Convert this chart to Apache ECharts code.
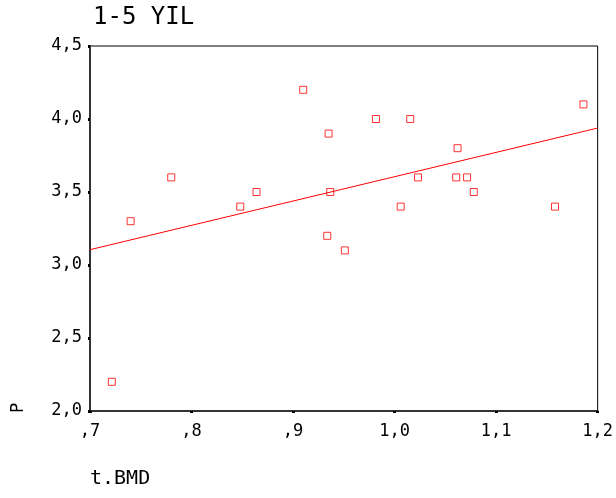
<!DOCTYPE html>
<html><head><meta charset="utf-8">
<script src="https://cdn.jsdelivr.net/npm/echarts@6/dist/echarts.min.js"></script>
<style>html,body{margin:0;padding:0;background:#fff}#c{width:616px;height:498px}</style>
</head><body><div id="c"></div>
<script>
var bmd = [0.7215,0.740,0.780,0.848,0.864,0.910,0.935,0.9366,0.9337,0.951,0.9816,1.0154,1.006,1.023,1.062,1.0607,1.0714,1.078,1.158,1.186];
var pVals = [2.2,3.3,3.6,3.4,3.5,4.2,3.9,3.5,3.2,3.1,4.0,4.0,3.4,3.6,3.8,3.6,3.6,3.5,3.4,4.1];
var fitX = [0.7,1.2];
var fitY = [3.105,3.938];
var xTickLabels = [',7',',8',',9','1,0','1,1','1,2'];
var yTickLabels = ['2,0','2,5','3,0','3,5','4,0','4,5'];

var pts = bmd.map(function(x,i){return [x,pVals[i]];});
var fit = fitX.map(function(x,i){return [x,fitY[i]];});
var font = 'DejaVu Sans Mono';
var chart = echarts.init(document.getElementById('c'));
chart.setOption({
  animation:false,
  title:{text:'1-5 YIL',left:88,top:1,textStyle:{fontFamily:font,fontSize:24,fontWeight:'normal',color:'#000'}},
  grid:{left:90,top:46,right:14,bottom:87,show:true,borderColor:'#000',borderWidth:1},
  graphic:[
    {type:'text',left:90,top:469,style:{text:'t.BMD',font:'20px "DejaVu Sans Mono"',fill:'#000'}},
    {type:'text',x:10,y:413,rotation:Math.PI/2,style:{text:'P',font:'17px "DejaVu Sans Mono"',fill:'#000'}}
  ],
  xAxis:{type:'value',min:0.7,max:1.2,interval:0.1,
    axisLine:{onZero:false,lineStyle:{color:'#333',width:2}},
    axisTick:{show:true,length:2,lineStyle:{color:'#000',width:3}},
    splitLine:{show:false},
    axisLabel:{margin:12,fontFamily:font,fontSize:17,color:'#000',
      formatter:function(v){return xTickLabels[Math.round((v-0.7)/0.1)];}}},
  yAxis:{type:'value',min:2.0,max:4.5,interval:0.5,
    axisLine:{onZero:false,lineStyle:{color:'#333',width:2}},
    axisTick:{show:true,length:2,lineStyle:{color:'#000',width:3}},
    splitLine:{show:false},
    axisLabel:{margin:8,fontFamily:font,fontSize:17,color:'#000',
      formatter:function(v){return yTickLabels[Math.round((v-2.0)/0.5)];}}},
  series:[
    {type:'line',data:fit,symbol:'none',lineStyle:{color:'#ff0000',width:1},silent:true},
    {type:'scatter',data:pts,symbol:'rect',symbolSize:7,
      itemStyle:{color:'#fff',borderColor:'#ff0000',borderWidth:1}}
  ]
});
</script></body></html>
